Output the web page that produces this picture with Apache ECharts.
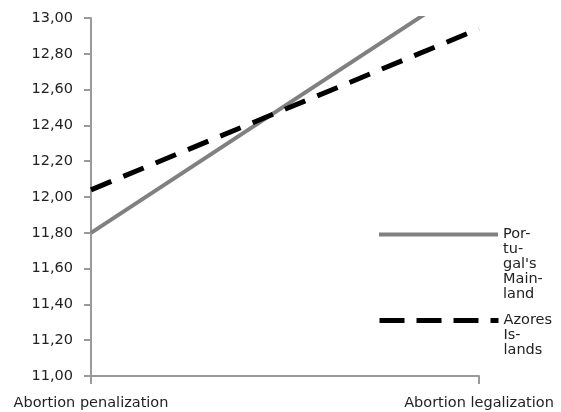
<!DOCTYPE html>
<html>
<head>
<meta charset="utf-8">
<script src="https://cdn.jsdelivr.net/npm/echarts@6/dist/echarts.min.js"></script>
<style>html,body{margin:0;padding:0;background:#fff}#c{width:561px;height:412px}</style>
</head>
<body>
<div id="c"></div>
<script>
var categories = ['Abortion penalization', 'Abortion legalization'];
var mainlandName = "Por-\ntu-\ngal's\nMain-\nland";
var azoresName = "Azores\nIs-\nlands";
var mainlandValues = [11.80, 13.22];
var azoresValues = [12.04, 12.94];
var yMin = 11, yMax = 13, yStep = 0.2;

var chart = echarts.init(document.getElementById('c'), null, {renderer: 'canvas'});
var font = 'DejaVu Sans';
// pad the wrapped legend text so its first line sits level with the icon
function topAlign(name) {
  var n = name.split('\n').length;
  return new Array(n).join('\n') + name;
}
var legendText = {fontFamily: font, fontSize: 14.5, lineHeight: 15, color: '#222'};
chart.setOption({
  animation: false,
  grid: {left: 91, right: 82, top: 18, bottom: 36, containLabel: false},
  legend: [
    {
      data: [mainlandName], formatter: topAlign,
      orient: 'vertical', left: 377, top: 167, padding: 0,
      itemWidth: 119, itemHeight: 14, itemGap: 0,
      itemStyle: {opacity: 0},
      lineStyle: {width: 4, color: '#808080', type: 'solid', cap: 'butt'},
      textStyle: legendText
    },
    {
      data: [azoresName], formatter: topAlign,
      orient: 'vertical', left: 377, top: 283, padding: 0,
      itemWidth: 119, itemHeight: 14, itemGap: 0,
      itemStyle: {opacity: 0},
      lineStyle: {width: 5, color: '#000000', type: [25, 12], cap: 'butt'},
      textStyle: legendText
    }
  ],
  xAxis: {
    type: 'category', data: categories, boundaryGap: false,
    axisLine: {lineStyle: {color: '#9a9a9a', width: 2}},
    axisTick: {show: true, length: 8, lineStyle: {color: '#9a9a9a', width: 2}},
    axisLabel: {fontFamily: font, fontSize: 14.5, color: '#222', margin: 20, interval: 0},
    splitLine: {show: false}
  },
  yAxis: {
    type: 'value', min: yMin, max: yMax, interval: yStep,
    axisLine: {show: true, lineStyle: {color: '#9a9a9a', width: 2}},
    axisTick: {show: true, length: 7, lineStyle: {color: '#9a9a9a', width: 2}},
    axisLabel: {fontFamily: font, fontSize: 14.5, color: '#222', margin: 18,
      formatter: function (v) { return v.toFixed(2).replace('.', ','); }},
    splitLine: {show: false}
  },
  series: [
    {
      name: mainlandName, type: 'line', data: mainlandValues, symbol: 'none',
      lineStyle: {color: '#808080', width: 4, cap: 'butt'}, itemStyle: {color: '#808080'}, clip: true
    },
    {
      name: azoresName, type: 'line', data: azoresValues, symbol: 'none',
      lineStyle: {color: '#000000', width: 5, type: [22, 13], cap: 'butt'}, itemStyle: {color: '#000000'}, clip: true
    }
  ]
});
</script>
</body>
</html>
